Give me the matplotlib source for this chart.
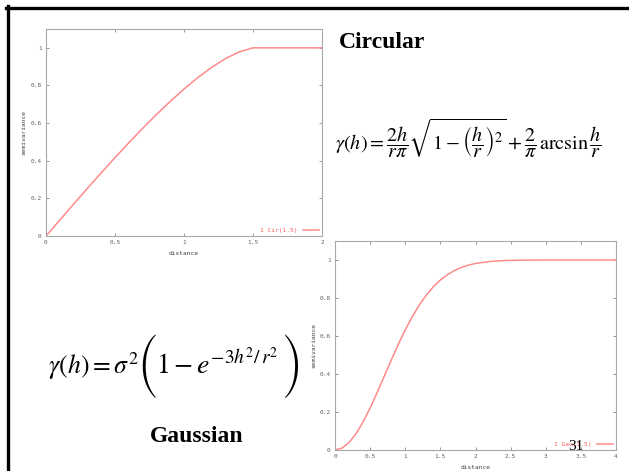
import matplotlib
matplotlib.use("Agg")
import matplotlib.pyplot as plt
from matplotlib.lines import Line2D

plt.rcParams["mathtext.fontset"] = "stix"

# Circular variogram model, range 1.5 (distance vs. semivariance)
cir_distance = [0.0, 0.1, 0.2, 0.3, 0.4, 0.5, 0.6, 0.7, 0.8, 0.9, 1.0,
                1.1, 1.2, 1.3, 1.4, 1.5, 2.0]
cir_gamma = [0.0, 0.0848, 0.1693, 0.2529, 0.3355, 0.4164, 0.4954, 0.5718,
             0.6453, 0.7152, 0.7809, 0.8416, 0.8959, 0.9423, 0.9785, 1.0, 1.0]

# Gaussian variogram model (distance vs. semivariance)
gau_distance = [0.0, 0.1, 0.2, 0.3, 0.4, 0.5, 0.6, 0.7, 0.8, 0.9, 1.0,
                1.1, 1.2, 1.3, 1.4, 1.5, 1.6, 1.7, 1.8, 1.9, 2.0,
                2.2, 2.4, 2.6, 3.0, 3.5, 4.0]
gau_gamma = [0.0, 0.0100, 0.0392, 0.0861, 0.1479, 0.2212, 0.3023, 0.3874,
             0.4727, 0.5551, 0.6321, 0.7018, 0.7631, 0.8155, 0.8591, 0.8946,
             0.9227, 0.9444, 0.9608, 0.9729, 0.9817, 0.9921, 0.9968, 0.9988,
             0.9999, 1.0, 1.0]

cir_xticks = [0, 0.5, 1, 1.5, 2]
cir_xticklabels = ["0", "0.5", "1", "1.5", "2"]
gau_xticks = [0, 0.5, 1, 1.5, 2, 2.5, 3, 3.5, 4]
gau_xticklabels = ["0", "0.5", "1", "1.5", "2", "2.5", "3", "3.5", "4"]
yticks = [0, 0.2, 0.4, 0.6, 0.8, 1]
yticklabels = ["0", "0.2", "0.4", "0.6", "0.8", "1"]

cir_label = "1 Cir(1.5)"
gau_label = "1 Gau(1.5)"
x_title = "distance"
y_title = "semivariance"

W, H = 629, 471
fig = plt.figure(figsize=(W / 100, H / 100), dpi=100)
fig.patch.set_facecolor("white")

MONO = "DejaVu Sans Mono"
CURVE = "#ff8a8a"
KEYTXT = "#ff5a5a"
FRAME = "#a8a8a8"
TXT = "#606060"
SERIF = "Liberation Serif"


def fx(x):
    return x / W


def fy(y):
    return 1 - y / H


def px_axes(left, top, right, bottom):
    return fig.add_axes([fx(left), fy(bottom), (right - left) / W,
                         (bottom - top) / H])


def style_axes(ax, xticks, xlabels, xmax, ylabelpad):
    ax.set_xlim(0, xmax)
    ax.set_ylim(0, 1.1)
    ax.set_xticks(xticks)
    ax.set_xticklabels(xlabels)
    ax.set_yticks(yticks)
    ax.set_yticklabels(yticklabels)
    ax.tick_params(direction="in", length=2.5, width=0.6, color="#888888",
                   top=True, right=True, labelsize=4.4, labelcolor=TXT,
                   pad=3)
    for lab in ax.get_xticklabels() + ax.get_yticklabels():
        lab.set_family(MONO)
    for sp in ax.spines.values():
        sp.set_color(FRAME)
        sp.set_linewidth(0.8)
    ax.set_xlabel(x_title, fontsize=4.5, family=MONO, color="#404040",
                  labelpad=4)
    ax.set_ylabel(y_title, fontsize=4.5, family=MONO, color="#404040",
                  labelpad=ylabelpad)


def add_key(ax):
    leg = ax.legend(loc="lower right", frameon=False, markerfirst=False,
                    handlelength=2.5, handletextpad=1.0, borderaxespad=0.1,
                    prop={"family": MONO, "size": 4.5})
    for t in leg.get_texts():
        t.set_color(KEYTXT)
    return leg


# Circular model panel
ax1 = px_axes(46, 29, 322, 236)
ax1.plot(cir_distance, cir_gamma, color=CURVE, lw=1.1, label=cir_label)
style_axes(ax1, cir_xticks, cir_xticklabels, 2, 3)
add_key(ax1)

# Gaussian model panel
ax2 = px_axes(335, 241, 616, 450)
ax2.plot(gau_distance, gau_gamma, color=CURVE, lw=1.1, label=gau_label)
style_axes(ax2, gau_xticks, gau_xticklabels, 4, 2)
add_key(ax2)

# Headings
fig.text(fx(339), fy(42), "Circular", family=SERIF, weight="bold",
         fontsize=17, ha="left", va="center")
fig.text(fx(197), fy(436), "Gaussian", family=SERIF, weight="bold",
         fontsize=17, ha="center", va="center")

# Circular model formula
fig.text(fx(335), fy(138),
         r"$\gamma(h) = \dfrac{2h}{r\pi}\sqrt{1-\left(\dfrac{h}{r}\right)^{2}}"
         r" + \dfrac{2}{\pi}\,\mathrm{arcsin}\,\dfrac{h}{r}$",
         fontsize=14.5, ha="left", va="center")

# Gaussian model formula, with tall delimiters from the STIX size fonts
base = fy(374)
fig.text(fx(48), base, r"$\gamma(h) = \sigma^{2}$", fontsize=18.5,
         ha="left", va="baseline")
fig.text(fx(147), fy(366), "(", family="STIXSizeThreeSym", fontsize=19,
         ha="center", va="center")
fig.text(fx(156), base, r"$1 - e^{-3h^{2}/\,r^{2}}$", fontsize=20,
         ha="left", va="baseline")
fig.text(fx(293), fy(366), ")", family="STIXSizeThreeSym", fontsize=19,
         ha="center", va="center")

# Slide number
fig.text(fx(576), fy(447), "31", family=SERIF, fontsize=11,
         ha="center", va="center")

# Slide frame (top and left edges)
fig.add_artist(Line2D([fx(6), 1], [fy(7.5), fy(7.5)],
                      transform=fig.transFigure, color="black", lw=2.4))
fig.add_artist(Line2D([fx(7.5), fx(7.5)], [0, fy(6)],
                      transform=fig.transFigure, color="black", lw=2.4))

fig.savefig("out.png", dpi=100, facecolor="white")
